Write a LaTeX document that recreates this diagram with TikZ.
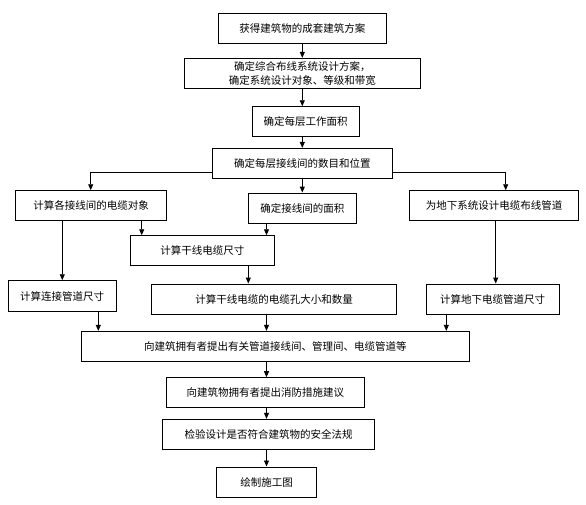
\documentclass[tikz,border=0pt]{standalone}
\usepackage{fontspec}
\newfontfamily\cjk{Noto Sans CJK SC}
\usetikzlibrary{arrows.meta}
\begin{document}
\begin{tikzpicture}[x=1pt,y=-1pt,
  box/.style={draw=black,line width=0.9pt,inner sep=0pt,minimum height=30pt,
    font=\cjk\fontsize{10.5}{14}\selectfont,align=center,fill=white},
  arr/.style={draw=black,line width=0.9pt,-{Triangle[length=6pt,width=5pt]}},
  ln/.style={draw=black,line width=0.9pt}]
\useasboundingbox (0,0) rectangle (586,504);
% column coordinates
\coordinate (cA) at (302.3,0);
\coordinate (cB) at (266.5,0);
\coordinate (cC) at (141.7,0);
\coordinate (cD) at (62.3,0);
\coordinate (cE) at (248.3,0);
\coordinate (cF) at (98.3,0);
\coordinate (cG) at (446.3,0);
\coordinate (cH) at (495.7,0);
\coordinate (cI) at (90.7,0);
\coordinate (cJ) at (505.7,0);
\coordinate (cy) at (0,172.3);
% boxes
\node[box,minimum width=168pt] (b1) at (302.3,28.3) {获得建筑物的成套建筑方案};
\node[box,minimum width=236.7pt] (b2) at (302.3,73.3) {确定综合布线系统设计方案，\\确定系统设计对象、等级和带宽};
\node[box,minimum width=106.7pt] (b3) at (305.7,121.7) {确定每层工作面积};
\node[box,minimum width=179.3pt,minimum height=29.7pt] (b4) at (302.3,163.2) {确定每层接线间的数目和位置};
\node[box,minimum width=151pt,minimum height=29.6pt] (b5) at (91.2,205.5) {计算各接线间的电缆对象};
\node[box,minimum width=108pt] (b6) at (302.3,208) {确定接线间的面积};
\node[box,minimum width=169pt,minimum height=29.6pt] (b10) at (494.2,205.5) {为地下系统设计电缆布线管道};
\node[box,minimum width=143.3pt] (b7) at (202.3,250.7) {计算干线电缆尺寸};
\node[box,minimum width=107.7pt,minimum height=30.6pt] (b8) at (62.2,296) {计算连接管道尺寸};
\node[box,minimum width=244.6pt] (b9) at (274,299) {计算干线电缆的电缆孔大小和数量};
\node[box,minimum width=132.7pt] (b11) at (492.7,299) {计算地下电缆管道尺寸};
\node[box,minimum width=387.3pt,minimum height=30.4pt] (b12) at (275.3,346.5) {向建筑拥有者提出有关管道接线间、管理间、电缆管道等};
\node[box,minimum width=197.3pt,minimum height=29.3pt] (b13) at (265.3,392.3) {向建筑物拥有者提出消防措施建议};
\node[box,minimum width=211.6pt] (b14) at (268.5,434.3) {检验设计是否符合建筑物的安全法规};
\node[box,minimum width=100pt,minimum height=30.7pt] (b15) at (266.7,482.3) {绘制施工图};
% connectors
\draw[arr] (b1.south -| cA) -- (b2.north -| cA);
\draw[arr] (b2.south -| cA) -- (b3.north -| cA);
\draw[arr] (b3.south -| cA) -- (b4.north -| cA);
\draw[arr] (b4.west |- cy) -| (b5.north -| cI);
\draw[arr] (b4.east |- cy) -| (b10.north -| cJ);
\draw[arr] (b4.south -| cA) -- (b6.north -| cA);
\draw[arr] (b5.south -| cC) -- (b7.north -| cC);
\draw[arr] (b6.south -| cB) -- (b7.north -| cB);
\draw[arr] (b5.south -| cD) -- (b8.north -| cD);
\draw[arr] (b10.south -| cH) -- (b11.north -| cH);
\draw[arr] (b7.south -| cE) -- (b9.north -| cE);
\draw[arr] (b8.south -| cF) -- (b12.north -| cF);
\draw[arr] (b9.south -| cB) -- (b12.north -| cB);
\draw[arr] (b11.south -| cG) -- (b12.north -| cG);
\draw[arr] (b12.south -| cB) -- (b13.north -| cB);
\draw[arr] (b13.south -| cB) -- (b14.north -| cB);
\draw[arr] (b14.south -| cB) -- (b15.north -| cB);
\end{tikzpicture}
\end{document}
